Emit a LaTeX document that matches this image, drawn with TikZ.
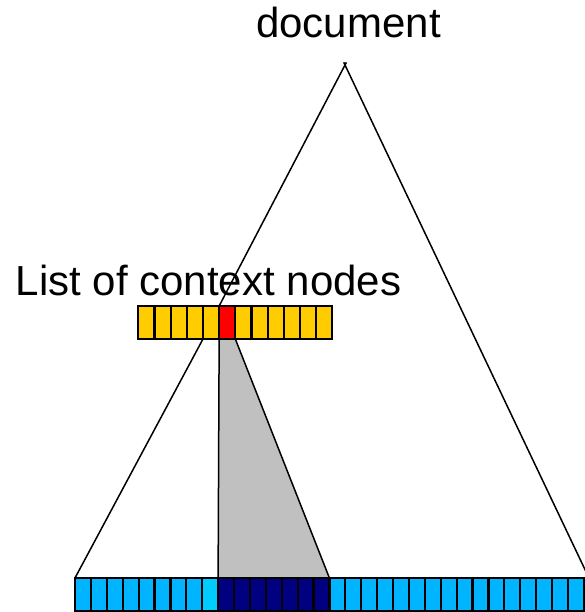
\documentclass[tikz,border=0pt]{standalone}
\usepackage{fontspec}
\setmainfont{Liberation Sans}
\definecolor{ctxyellow}{RGB}{255,204,0}
\definecolor{ctxred}{RGB}{255,0,0}
\definecolor{leafblue}{RGB}{0,180,255}
\definecolor{leafcyan}{RGB}{0,204,255}
\definecolor{leafnavy}{RGB}{0,0,128}
\definecolor{subgray}{RGB}{192,192,192}
\usetikzlibrary{positioning,backgrounds}

\begin{document}
\begin{tikzpicture}[x=1pt, y=-1pt,
  lbl/.style={font=\fontsize{42}{50}\selectfont, inner sep=0pt, anchor=base},
  cell/.style={draw, line width=2.2pt, inner sep=0pt, outer sep=0pt, minimum height=33pt},
  edge/.style={line width=1.5pt}]
\useasboundingbox (0,0) rectangle (584,612);
\node[lbl] (doc) at (348.5,38) {document};
\node[lbl] (ctx) at (208.5,295) {List of context nodes};
\coordinate (root) at (345,65);
\coordinate (rbase) at (589,578);
% context list, one red entry
\foreach \i in {1,...,12}{
  \ifnum\i=6 \def\col{ctxred}\else\def\col{ctxyellow}\fi
  \node[cell, minimum width=16.17pt, fill=\col] (c\i) at ({138.3+(\i-0.5)*16.17},322.5) {};
}
% leaves of the document
\foreach \i in {1,...,32}{
  \def\col{leafblue}
  \ifnum\i=9 \def\col{leafcyan}\fi
  \ifnum\i>9 \ifnum\i<17 \def\col{leafnavy}\fi\fi
  \node[cell, minimum width=15.9pt, fill=\col] (b\i) at ({75+(\i-0.5)*15.9},594.5) {};
}
\begin{scope}[on background layer]
\draw[edge, shorten <=-3pt] (root) -- (c6.north west);
\draw[edge, shorten <=-3pt] (root) -- (rbase);
\draw[edge] (c5.south west) -- (b1.north west);
\draw[edge, fill=subgray] (c6.south west) -- (c6.south east) -- (b16.north east) -- (b10.north west) -- cycle;
\end{scope}
\end{tikzpicture}
\end{document}
